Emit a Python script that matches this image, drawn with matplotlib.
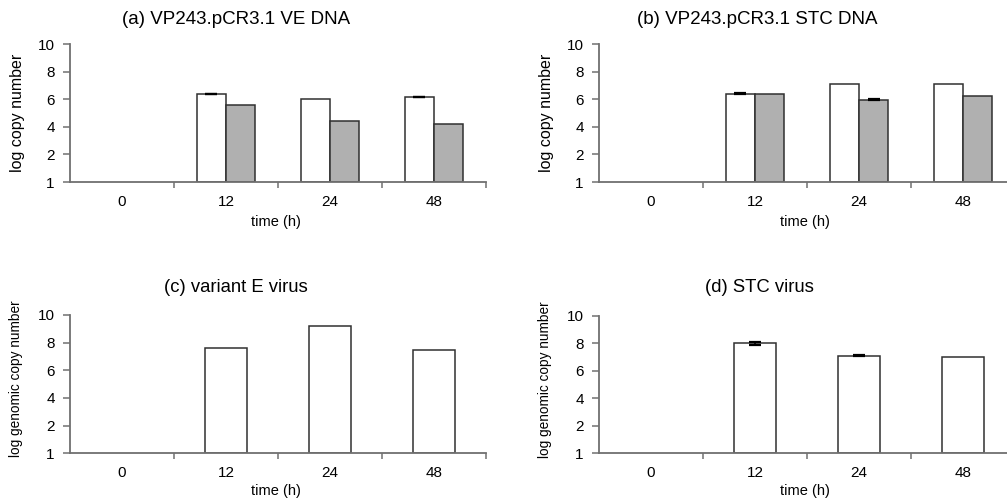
import numpy as np
import matplotlib
matplotlib.use("Agg")
import matplotlib.pyplot as plt

plt.rcParams['font.family'] = ['Liberation Sans', 'DejaVu Sans']

# ---- data ----
times = ['0', '12', '24', '48']
ytick_vals = [0, 2, 4, 6, 8, 10]
ytick_labels = ['1', '2', '4', '6', '8', '10']

a_white = [np.nan, 6.36, 6.05, 6.14]
a_white_err = [0, 0.05, 0, 0.03]
a_gray = [np.nan, 5.58, 4.44, 4.18]
a_gray_err = [0, 0, 0, 0]

b_white = [np.nan, 6.40, 7.10, 7.10]
b_white_err = [0, 0.05, 0, 0]
b_gray = [np.nan, 6.36, 5.96, 6.21]
b_gray_err = [0, 0, 0.05, 0]

c_vals = [np.nan, 7.59, 9.23, 7.47]
c_err = [0, 0, 0, 0]
d_vals = [np.nan, 7.99, 7.09, 7.02]
d_err = [0, 0.12, 0.03, 0]

titles = ['(a) VP243.pCR3.1 VE DNA', '(b) VP243.pCR3.1 STC DNA',
          '(c) variant E virus', '(d) STC virus']
ylabels = ['log copy number', 'log copy number',
           'log genomic copy number', 'log genomic copy number']
xlabel = 'time (h)'

W, H = 1007, 501
fig = plt.figure(figsize=(W / 100, H / 100), dpi=100)

SPINE = '#707070'
EDGE = '#303030'
GRAY = '#b0b0b0'


def px_axes(left, top, right, bottom):
    return fig.add_axes([left / W, 1 - bottom / H, (right - left) / W, (bottom - top) / H])


def style(ax, ypad):
    ax.set_xlim(-0.5, 3.5)
    ax.set_ylim(0, 10)
    for s in ['top', 'right']:
        ax.spines[s].set_visible(False)
    for s in ['left', 'bottom']:
        ax.spines[s].set_color(SPINE)
        ax.spines[s].set_linewidth(1.3)
    ax.set_yticks(ytick_vals)
    ax.set_yticklabels(ytick_labels)
    ax.tick_params(axis='y', length=5, width=1.1, color=SPINE, labelsize=11, pad=ypad)
    ax.set_xticks(range(len(times)))
    ax.set_xticklabels(times)
    ax.tick_params(axis='x', which='major', length=0, labelsize=11, pad=9.5)
    ax.set_xticks([0.5, 1.5, 2.5, 3.5], minor=True)
    ax.tick_params(axis='x', which='minor', length=4, width=1.1, color=SPINE)
    ax.patch.set_alpha(0)


def errs(ax, xs, vals, err, both=False):
    xs = np.asarray(xs, float)
    vals = np.asarray(vals, float)
    err = np.asarray(err, float)
    m = err > 0
    if not m.any():
        return
    yerr = err[m] if both else [np.zeros(m.sum()), err[m]]
    ax.errorbar(xs[m], vals[m], yerr=yerr, fmt='none', ecolor='black',
                elinewidth=1.2, capsize=4.5, capthick=1.6, zorder=3)


x = np.arange(len(times))

axes_spec = [
    (70, 44, 486, 182, 6),
    (599, 44, 1015, 182, 6),
    (70, 315, 486, 453.3, 6),
    (599, 315.7, 1015, 453.3, 6),
]
axs = []
for (l, t, r, b, yp) in axes_spec:
    ax = px_axes(l, t, r, b)
    style(ax, yp)
    axs.append(ax)

bw = 0.28
for ax, wv, we, gv, ge in [(axs[0], a_white, a_white_err, a_gray, a_gray_err),
                           (axs[1], b_white, b_white_err, b_gray, b_gray_err)]:
    ax.bar(x - bw / 2, wv, bw, color='white', edgecolor=EDGE, linewidth=1.1, zorder=2)
    ax.bar(x + bw / 2, gv, bw, color=GRAY, edgecolor=EDGE, linewidth=1.1, zorder=2)
    errs(ax, x - bw / 2, wv, we)
    errs(ax, x + bw / 2, gv, ge)

bw2 = 0.4
axs[2].bar(x, c_vals, bw2, color='white', edgecolor=EDGE, linewidth=1.1, zorder=2)
errs(axs[2], x, c_vals, c_err)
axs[3].bar(x, d_vals, bw2, color='white', edgecolor=EDGE, linewidth=1.1, zorder=2)
errs(axs[3], x, d_vals, d_err, both=True)

# titles
fig.text(236 / W, 1 - 20 / H, titles[0], ha='center', va='center', fontsize=13.5)
fig.text(757 / W, 1 - 20 / H, titles[1], ha='center', va='center', fontsize=13.5)
fig.text(236 / W, 1 - 287 / H, titles[2], ha='center', va='center', fontsize=13.3)
fig.text(759 / W, 1 - 288 / H, titles[3], ha='center', va='center', fontsize=13.3)

# y labels
fig.text(18 / W, 1 - 113 / H, ylabels[0], rotation=90, ha='center', va='center', fontsize=11.5)
fig.text(547 / W, 1 - 113 / H, ylabels[1], rotation=90, ha='center', va='center', fontsize=11.5)
fig.text(16 / W, 1 - 379 / H, ylabels[2], rotation=90, ha='center', va='center', fontsize=9.8)
fig.text(545 / W, 1 - 380 / H, ylabels[3], rotation=90, ha='center', va='center', fontsize=9.8)

# x labels
fig.text(276 / W, 1 - 222 / H, xlabel, ha='center', va='center', fontsize=10.5)
fig.text(805 / W, 1 - 222 / H, xlabel, ha='center', va='center', fontsize=10.5)
fig.text(276 / W, 1 - 491.5 / H, xlabel, ha='center', va='center', fontsize=10.5)
fig.text(805 / W, 1 - 491.5 / H, xlabel, ha='center', va='center', fontsize=10.5)

fig.savefig('out.png', dpi=100)
